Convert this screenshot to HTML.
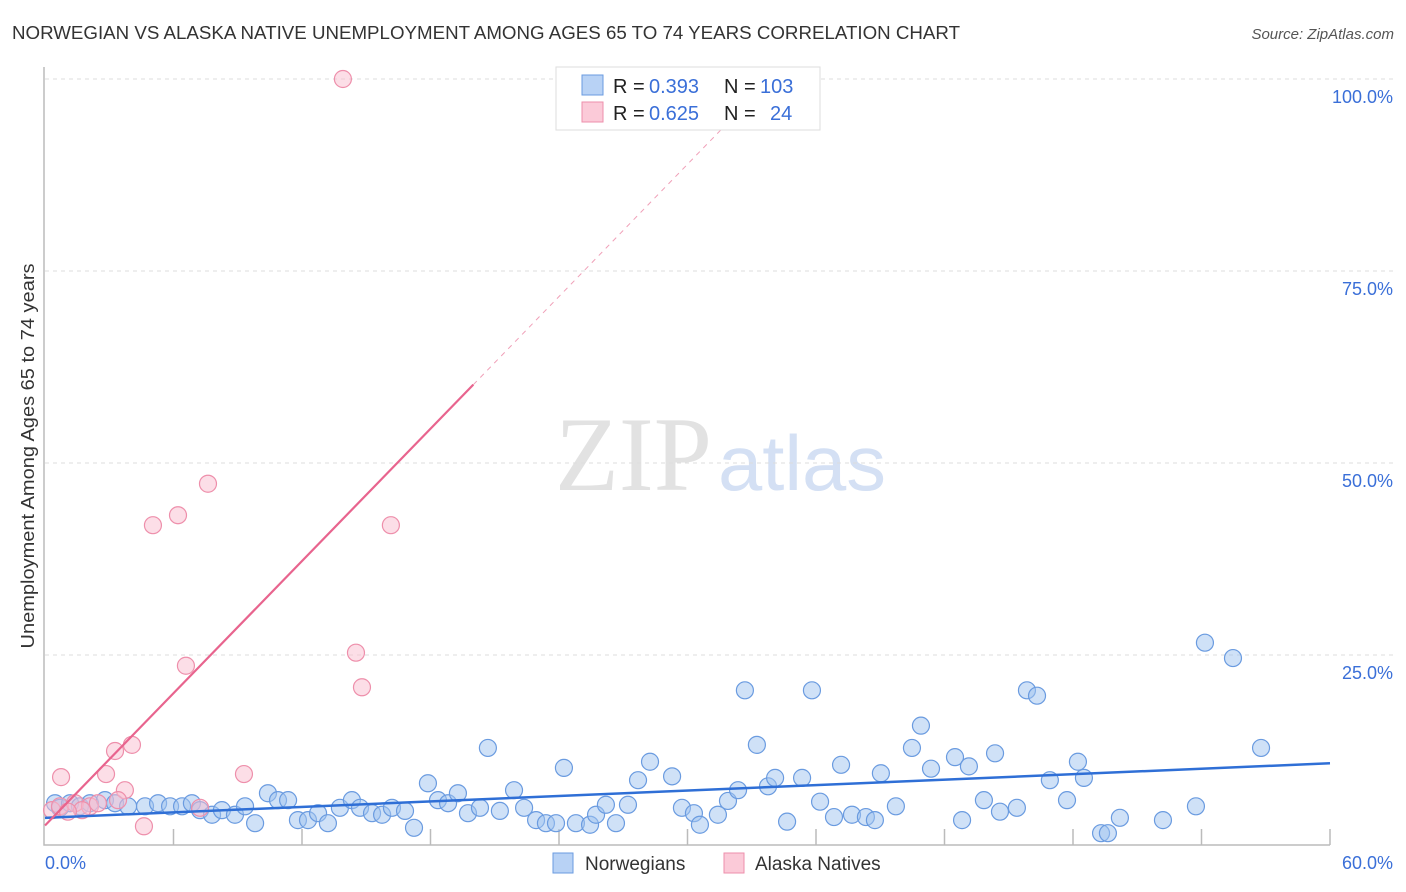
<!DOCTYPE html>
<html><head><meta charset="utf-8">
<style>
body{margin:0;background:#fff;font-family:"Liberation Sans",sans-serif;}
svg{display:block}
</style></head>
<body>
<svg id="chart" width="1406" height="892" xmlns="http://www.w3.org/2000/svg">
<text x="12" y="39" font-size="18" fill="#333" textLength="948" lengthAdjust="spacingAndGlyphs">NORWEGIAN VS ALASKA NATIVE UNEMPLOYMENT AMONG AGES 65 TO 74 YEARS CORRELATION CHART</text>
<text x="1394" y="39" font-size="15" fill="#555" font-style="italic" text-anchor="end">Source: ZipAtlas.com</text>
<text x="555" y="490" font-size="106" fill="#e2e2e2" textLength="157" lengthAdjust="spacingAndGlyphs" font-family="Liberation Serif,serif">ZIP</text>
<text x="718" y="490" font-size="78" fill="#d4e0f4" textLength="168" lengthAdjust="spacingAndGlyphs">atlas</text>
<text transform="translate(34,456) rotate(-90)" font-size="18" fill="#333" text-anchor="middle" textLength="385" lengthAdjust="spacingAndGlyphs">Unemployment Among Ages 65 to 74 years</text>
<g id="grid"></g>
<g id="marks"></g>
<g>
<rect x="556" y="67" width="264" height="63" fill="#fff" stroke="#ddd"/>
<rect x="582" y="75" width="21" height="20" fill="#b8d2f5" stroke="#6a9be0"/>
<rect x="582" y="102" width="21" height="20" fill="#fbcad8" stroke="#ee8fab"/>
<g font-size="20" fill="#222">
<text x="613" y="93">R =</text>
<text x="649" y="93" fill="#3a6fd8">0.393</text>
<text x="724" y="93">N =</text>
<text x="760" y="93" fill="#3a6fd8">103</text>
<text x="613" y="120">R =</text>
<text x="649" y="120" fill="#3a6fd8">0.625</text>
<text x="724" y="120">N =</text>
<text x="770" y="120" fill="#3a6fd8">24</text>
</g>
</g>
<g>
<rect x="553" y="853" width="20" height="20" fill="#b8d2f5" stroke="#6a9be0"/>
<text x="585" y="870" font-size="19" fill="#333">Norwegians</text>
<rect x="724" y="853" width="20" height="20" fill="#fbcad8" stroke="#ee8fab"/>
<text x="755" y="870" font-size="19" fill="#333">Alaska Natives</text>
</g>
</svg>
<script>
const yTicks=[25,50,75,100];
const yTickLabels=["25.0%","50.0%","75.0%","100.0%"];
const xTickLabels=["0.0%","60.0%"];
const blueX=[0.47,0.70,1.17,1.63,2.10,2.80,3.27,3.88,4.67,5.28,5.84,6.40,6.86,7.24,7.80,8.26,8.87,9.34,9.81,10.41,10.88,11.35,11.81,12.28,12.75,13.21,13.77,14.33,14.71,15.27,15.74,16.20,16.81,17.23,17.88,18.35,18.82,19.28,19.75,20.31,20.68,21.24,21.90,22.37,22.93,23.39,23.86,24.23,24.79,25.45,25.73,26.19,26.66,27.22,27.69,28.25,29.28,29.74,30.30,30.58,31.42,31.89,32.36,32.68,33.24,33.76,34.09,34.65,35.35,35.81,36.19,36.84,37.17,37.68,38.33,38.75,39.03,39.73,40.48,40.90,41.37,42.49,42.82,43.14,43.84,44.36,44.59,45.38,45.85,46.32,46.92,47.72,48.23,48.51,49.31,49.63,50.19,52.20,53.74,54.16,55.47,56.78];
const blueY=[5.7,5.1,5.7,5.3,5.7,6.1,5.7,5.3,5.3,5.7,5.3,5.3,5.7,4.8,4.2,4.8,4.2,5.3,3.1,7.0,6.1,6.1,3.5,3.5,4.4,3.1,5.1,6.1,5.1,4.4,4.2,5.1,4.7,2.5,8.3,6.1,5.7,7.0,4.4,5.1,12.9,4.7,7.4,5.1,3.5,3.1,3.1,10.3,3.1,2.9,4.2,5.5,3.1,5.5,8.7,11.1,9.2,5.1,4.4,2.9,4.2,6.0,7.4,20.4,13.3,7.9,9.0,3.3,9.0,20.4,5.9,3.9,10.7,4.2,3.9,3.5,9.6,5.3,12.9,15.8,10.2,11.7,3.5,10.5,6.1,12.2,4.6,5.1,20.4,19.7,8.7,6.1,11.1,9.0,1.8,1.8,3.8,3.5,5.3,26.6,24.6,12.9];
const pinkX=[13.91,7.61,6.21,5.04,16.15,14.52,14.8,6.58,9.29,4.06,3.27,2.85,0.75,3.73,0.33,0.7,1.4,2.1,2.47,3.41,4.62,7.24,1.73,1.07];
const pinkY=[100,47.3,43.2,41.9,41.9,25.3,20.8,23.6,9.5,13.3,12.5,9.5,9.1,7.4,4.8,5.3,5.7,5.3,5.7,6.1,2.7,5.1,4.8,4.6];
const blueTrend=[3.8,10.9];
const pinkTrend=[2.8,60.2,100];
const NS="http://www.w3.org/2000/svg";
const X0=45,X1=1330,Y0=847,Y100=79;
const sx=v=>X0+(X1-X0)*v/60;
const sy=v=>Y0-(Y0-Y100)*v/100;
function mk(tag,attrs,parent){const e=document.createElementNS(NS,tag);for(const k in attrs)e.setAttribute(k,attrs[k]);parent.appendChild(e);return e;}
const grid=document.getElementById('grid'),marks=document.getElementById('marks');
yTicks.forEach((t,i)=>{
 const l=mk('line',{x1:X0,x2:1394,y1:sy(t),y2:sy(t),stroke:'#ddd','stroke-dasharray':'4,4'},grid);
 
 
 const tx=mk('text',{x:1393,y:sy(t)+24,'font-size':18,fill:'#3a6fd8','text-anchor':'end'},grid);
 tx.textContent=yTickLabels[i];
 
 
});
const ax=mk('path',{d:`M${X0-1},67 V${Y0-2} H${X1}`,fill:'none',stroke:'#bbb','stroke-width':1.5},grid);


for(let k=1;k<=10;k++){
 const t=mk('line',{x1:sx(k*6),x2:sx(k*6),y1:Y0-2,y2:Y0-18,stroke:'#bbb','stroke-width':1.5},grid);
 
 
}
[[0,'start',X0],[60,'end',1393]].forEach((d,i)=>{
 const tx=mk('text',{x:d[2],y:869,'font-size':18,fill:'#3a6fd8','text-anchor':d[1]},grid);
 tx.textContent=xTickLabels[i];
 
 
});
blueX.forEach((v,i)=>{
 const c=mk('circle',{cx:sx(v),cy:sy(blueY[i]),r:8.5,fill:'rgba(160,195,240,0.5)',stroke:'#6a9be0','stroke-width':1.2},marks);
 
 
});
pinkX.forEach((v,i)=>{
 const c=mk('circle',{cx:sx(v),cy:sy(pinkY[i]),r:8.5,fill:'rgba(250,190,208,0.5)',stroke:'#ee8fab','stroke-width':1.2},marks);
 
 
});
const bt=mk('line',{x1:sx(0),y1:sy(blueTrend[0]),x2:sx(60),y2:sy(blueTrend[1]),stroke:'#2f6fd6','stroke-width':2.5},marks);


const slope=(pinkTrend[1]-pinkTrend[0])/20;
const pxEnd=20, pxDash=(pinkTrend[2]-pinkTrend[0])/slope;
const pt=mk('line',{x1:sx(0),y1:sy(pinkTrend[0]),x2:sx(pxEnd),y2:sy(pinkTrend[1]),stroke:'#e8648e','stroke-width':2.2},marks);


const pd=mk('line',{x1:sx(pxEnd),y1:sy(pinkTrend[1]),x2:sx(pxDash),y2:sy(pinkTrend[2]),stroke:'#f0a0b8','stroke-width':1,'stroke-dasharray':'5,5'},marks);


</script>
</body></html>
